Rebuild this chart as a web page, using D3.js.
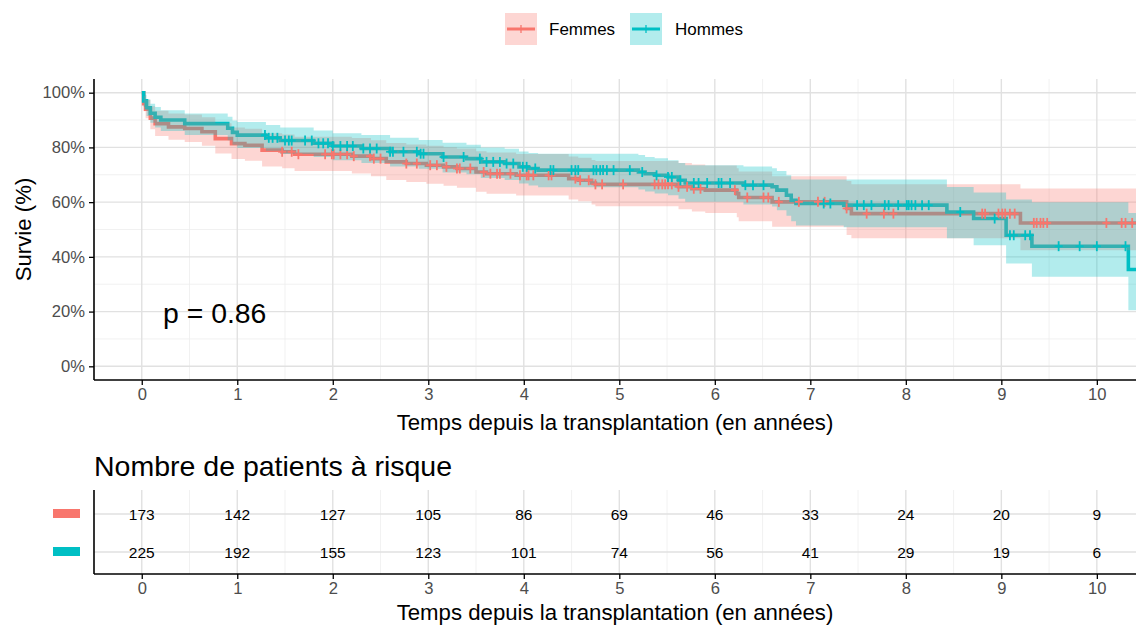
<!DOCTYPE html>
<html><head><meta charset="utf-8">
<script src="https://cdn.jsdelivr.net/npm/d3@7"></script>
<style>
body{margin:0;background:#fff;}
svg{display:block;font-family:"Liberation Sans",Arial,sans-serif;}
</style></head>
<body><svg id="c" width="1136" height="626"></svg>
<script>
// ---------------- DATA ----------------
const categories = ["Femmes", "Hommes"];
const colors = ["#F8766D", "#00BFC4"];

const femmesTime  = [0, 0.02, 0.04, 0.09, 0.14, 0.28, 0.45, 0.63, 0.77, 0.94, 1.08, 1.26, 1.47, 1.6, 2.2, 2.4, 2.56, 2.77, 2.98, 3.16, 3.3, 3.5, 3.61, 3.92, 4.47, 4.57, 4.71, 4.75, 5.62, 5.76, 5.9, 6.23, 6.25, 6.6, 7.38, 7.43, 9.2];
const femmesSurv  = [100, 96, 94, 90.7, 88.7, 87.5, 86.9, 85.7, 83.2, 81.4, 80.8, 79, 78.4, 77.5, 76.8, 75.9, 74.7, 74.1, 73.5, 72.9, 72.3, 71.0, 70.4, 69.8, 68.6, 68.0, 67.0, 66.5, 65.6, 64.9, 64.4, 63.1, 61.7, 60.1, 57.7, 55.8, 52.4];
const femmesLower = [100, 93.2, 90.7, 86.6, 84.2, 82.8, 82, 80.6, 77.8, 75.8, 75.1, 73, 72.4, 71.4, 70.5, 69.5, 68.1, 67.4, 66.7, 66, 65.3, 63.8, 63.1, 62.4, 61, 60.3, 59.1, 58.5, 57.4, 56.6, 56, 54.5, 53, 51, 48, 46.8, 42.4];
const femmesUpper = [100, 98.8, 97.4, 95, 93.4, 92.4, 92, 91, 88.8, 87.3, 86.8, 85.2, 84.7, 83.9, 83.4, 82.6, 81.6, 81.1, 80.6, 80.1, 79.6, 78.6, 78.1, 77.6, 76.7, 76.2, 75.4, 75, 74.3, 73.8, 73.4, 72.4, 71.2, 69.5, 67.7, 66.5, 65];
const femmesCensor = [1.47, 1.57, 1.64, 1.92, 1.99, 2.01, 2.08, 2.15, 2.22, 2.39, 2.43, 2.5, 2.77, 2.88, 3.02, 3.09, 3.19, 3.3, 3.33, 3.44, 3.58, 3.65, 3.72, 3.75, 3.86, 3.96, 4.03, 4.05, 4.1, 4.26, 4.29, 4.54, 4.59, 4.68, 4.75, 4.82, 5.04, 5.37, 5.41, 5.45, 5.48, 5.51, 5.55, 5.62, 5.71, 5.78, 5.85, 6.21, 6.34, 6.51, 6.56, 6.67, 6.88, 7.08, 7.15, 7.38, 7.59, 7.77, 7.87, 8.8, 8.83, 8.97, 9.01, 9.04, 9.09, 9.14, 9.34, 9.37, 9.41, 9.44, 9.48, 10.1, 10.26, 10.3, 10.37];

const hommesTime  = [0, 0.02, 0.05, 0.09, 0.14, 0.2, 0.45, 0.9, 0.95, 1.0, 1.3, 1.45, 1.8, 2.0, 2.3, 2.6, 2.9, 3.15, 3.4, 3.55, 3.8, 3.95, 4.05, 4.15, 5.2, 5.27, 5.37, 5.51, 5.62, 5.69, 6.3, 6.6, 6.65, 6.75, 6.8, 6.85, 7.35, 8.43, 8.71, 9.05, 9.32, 10.33];
const hommesSurv  = [100, 97, 94.5, 92.5, 91, 90, 88.7, 87, 85.5, 84.5, 83.5, 82.5, 81.5, 80.5, 79.6, 78.4, 77.7, 76.5, 75.9, 74.7, 74.1, 72.9, 72.3, 71.7, 71.0, 70.4, 69.8, 69.2, 68.0, 67.0, 66.2, 65.6, 64.4, 62.5, 60.7, 59.5, 58.9, 56.4, 54.0, 47.9, 43.9, 35.4];
const hommesLower = [100, 94.8, 91.5, 89, 87.3, 86, 84.5, 82.6, 81, 79.8, 78.8, 77.6, 76.5, 75.3, 74.3, 73, 72.2, 70.8, 70.2, 68.8, 68.1, 66.8, 66.1, 65.4, 64.6, 63.9, 63.2, 62.5, 61.2, 60.1, 59.1, 58.4, 57, 55, 53, 51.5, 50.8, 46.8, 44.2, 37.6, 32.7, 20.5];
const hommesUpper = [100, 99.2, 97.5, 96, 94.8, 93.6, 92.4, 91.2, 89.8, 89.3, 88.2, 87.3, 86.2, 85.2, 84.5, 83.5, 82.7, 81.7, 81, 80, 79.5, 78.5, 78, 77.7, 77.2, 76.5, 76, 75.3, 74.3, 73.5, 73.0, 72.4, 71.4, 69.8, 68.3, 68.3, 68.3, 65.5, 63.5, 61, 60, 56];
const hommesCensor = [1.29, 1.33, 1.37, 1.42, 1.5, 1.54, 1.57, 1.71, 1.78, 1.85, 1.9, 1.95, 2.0, 2.08, 2.15, 2.21, 2.32, 2.39, 2.46, 2.6, 2.63, 2.74, 2.88, 2.92, 2.95, 3.16, 3.37, 3.54, 3.61, 3.68, 3.75, 3.82, 3.89, 3.99, 4.03, 4.12, 4.28, 4.31, 4.5, 4.54, 4.57, 4.73, 4.76, 4.8, 4.83, 4.87, 4.94, 5.11, 5.24, 5.39, 5.51, 5.55, 5.64, 5.78, 5.83, 5.92, 6.04, 6.07, 6.16, 6.32, 6.4, 6.51, 7.14, 7.21, 7.49, 7.56, 7.64, 7.78, 7.82, 7.92, 8.01, 8.06, 8.03, 8.1, 8.17, 8.24, 8.57, 8.93, 9.09, 9.13, 9.25, 9.3, 9.6, 9.82, 10.0, 10.3];

const endTime = 10.41;
const riskTimes = [0, 1, 2, 3, 4, 5, 6, 7, 8, 9, 10];
const femmesRisk = [173, 142, 127, 105, 86, 69, 46, 33, 24, 20, 9];
const hommesRisk = [225, 192, 155, 123, 101, 74, 56, 41, 29, 19, 6];
const xTicks = [0, 1, 2, 3, 4, 5, 6, 7, 8, 9, 10];
const yTicks = [0, 20, 40, 60, 80, 100];
const yTickLabels = ["0%", "20%", "40%", "60%", "80%", "100%"];
const pValueText = "p = 0.86";
const xTitle = "Temps depuis la transplantation (en années)";
const yTitle = "Survie (%)";
const tableTitle = "Nombre de patients à risque";

// ---------------- LAYOUT ----------------
const svg = d3.select("#c");
const L = 94, R = 1136, T = 79, B = 380;
const x = d3.scaleLinear().domain([-0.5, endTime]).range([L, R]);
const y = d3.scaleLinear().domain([-5, 105]).range([B, T]);
const FONT_TICK = 16.6, FONT_TITLE = 22.2;

const series = [
  {name: categories[0], color: colors[0], t: femmesTime, s: femmesSurv, lo: femmesLower, hi: femmesUpper, c: femmesCensor},
  {name: categories[1], color: colors[1], t: hommesTime, s: hommesSurv, lo: hommesLower, hi: hommesUpper, c: hommesCensor}
];
series.forEach(sr => {
  sr.pts = sr.t.map((t, i) => ({t, s: sr.s[i], lo: sr.lo[i], hi: sr.hi[i]}));
  const last = sr.pts[sr.pts.length - 1];
  sr.pts.push({t: endTime, s: last.s, lo: last.lo, hi: last.hi});
  sr.at = tt => { let v = sr.s[0]; for (let i = 0; i < sr.t.length; i++) { if (sr.t[i] <= tt) v = sr.s[i]; } return v; };
});

svg.append("defs").append("clipPath").attr("id", "clip")
  .append("rect").attr("x", L).attr("y", T).attr("width", R - L).attr("height", B - T);

// grid
const grid = svg.append("g");
const minorY = d3.range(10, 101, 20);
grid.selectAll(".my").data(minorY).join("line")
  .attr("x1", L).attr("x2", R).attr("y1", d => y(d)).attr("y2", d => y(d))
  .attr("stroke", "#EDEDED").attr("stroke-width", 0.8);
grid.selectAll(".mx").data(d3.range(0.5, 10.5, 1)).join("line")
  .attr("y1", T).attr("y2", B).attr("x1", d => x(d)).attr("x2", d => x(d))
  .attr("stroke", "#EDEDED").attr("stroke-width", 0.8);
grid.selectAll(".My").data(yTicks).join("line")
  .attr("x1", L).attr("x2", R).attr("y1", d => y(d)).attr("y2", d => y(d))
  .attr("stroke", "#E1E1E1").attr("stroke-width", 1.4);
grid.selectAll(".Mx").data(xTicks).join("line")
  .attr("y1", T).attr("y2", B).attr("x1", d => x(d)).attr("x2", d => x(d))
  .attr("stroke", "#E1E1E1").attr("stroke-width", 1.4);

const plotG = svg.append("g").attr("clip-path", "url(#clip)");
const line = d3.line().curve(d3.curveStepAfter).x(d => x(d.t)).y(d => y(d.s));
const area = d3.area().curve(d3.curveStepAfter).x(d => x(d.t)).y0(d => y(d.lo)).y1(d => y(d.hi));

series.forEach(sr => {
  plotG.append("path").datum(sr.pts).attr("d", line)
    .attr("fill", "none").attr("stroke", sr.color).attr("stroke-width", 3.6);
});
series.forEach(sr => {
  plotG.append("path").datum(sr.pts).attr("d", area)
    .attr("fill", sr.color).attr("fill-opacity", 0.3).attr("stroke", "none");
});
series.forEach(sr => {
  const g = plotG.append("g");
  sr.c.forEach(ct => {
    const cx = x(ct), cy = y(sr.at(ct));
    g.append("line").attr("x1", cx).attr("x2", cx).attr("y1", cy - 5).attr("y2", cy + 5)
      .attr("stroke", sr.color).attr("stroke-width", 1.8);
    g.append("line").attr("x1", cx - 4).attr("x2", cx + 4).attr("y1", cy).attr("y2", cy)
      .attr("stroke", sr.color).attr("stroke-width", 1.8);
  });
});

// axes
const xAxis = svg.append("g").attr("transform", `translate(0,${B})`)
  .call(d3.axisBottom(x).tickValues(xTicks).tickSize(5).tickPadding(3).tickFormat(d3.format("d")));
const yAxis = svg.append("g").attr("transform", `translate(${L},0)`)
  .call(d3.axisLeft(y).tickValues(yTicks).tickSize(5).tickPadding(4).tickFormat((d, i) => yTickLabels[i]));
[xAxis, yAxis].forEach(a => {
  a.select(".domain").attr("stroke", "#000").attr("stroke-width", 1.6);
  a.selectAll(".tick line").attr("stroke", "#000").attr("stroke-width", 1.3);
  a.selectAll(".tick text").attr("fill", "#4D4D4D").style("font-size", FONT_TICK + "px")
    .style("font-family", "Liberation Sans, Arial, sans-serif");
});
xAxis.select(".domain").attr("d", `M${L},0H${R}`);
yAxis.select(".domain").attr("d", `M0,${T}V${B}`);

svg.append("text").attr("x", (L + R) / 2).attr("y", 422).attr("text-anchor", "middle")
  .attr("dominant-baseline", "central").style("font-size", FONT_TITLE + "px").text(xTitle);
svg.append("text").attr("transform", `translate(23,${(T + B) / 2}) rotate(-90)`).attr("text-anchor", "middle")
  .attr("dominant-baseline", "central").style("font-size", FONT_TITLE + "px").text(yTitle);
svg.append("text").attr("x", 163).attr("y", 313).attr("dominant-baseline", "central")
  .style("font-size", "28.4px").text(pValueText);

// legend
const legX = [505, 630], legTextX = [549, 675];
series.forEach((sr, i) => {
  const g = svg.append("g");
  g.append("rect").attr("x", legX[i]).attr("y", 13).attr("width", 32).attr("height", 32)
    .attr("fill", sr.color).attr("fill-opacity", 0.3);
  g.append("line").attr("x1", legX[i] + 2).attr("x2", legX[i] + 30).attr("y1", 29).attr("y2", 29)
    .attr("stroke", sr.color).attr("stroke-width", 3);
  g.append("line").attr("x1", legX[i] + 16).attr("x2", legX[i] + 16).attr("y1", 25).attr("y2", 33)
    .attr("stroke", sr.color).attr("stroke-width", 1.3);
  g.append("text").attr("x", legTextX[i]).attr("y", 29).attr("dominant-baseline", "central")
    .style("font-size", "17px").text(sr.name);
});

// ---------------- RISK TABLE ----------------
const TT = 490, TB = 574;
const rowY = d3.scalePoint().domain(categories).range([514, 552]);
const tg = svg.append("g");
tg.selectAll(".tmx").data(d3.range(0.5, 10.5, 1)).join("line")
  .attr("y1", TT).attr("y2", TB).attr("x1", d => x(d)).attr("x2", d => x(d))
  .attr("stroke", "#EDEDED").attr("stroke-width", 0.8);
tg.selectAll(".tMx").data(xTicks).join("line")
  .attr("y1", TT).attr("y2", TB).attr("x1", d => x(d)).attr("x2", d => x(d))
  .attr("stroke", "#E1E1E1").attr("stroke-width", 1.4);
tg.selectAll(".tMy").data(categories).join("line")
  .attr("x1", L).attr("x2", R).attr("y1", d => rowY(d)).attr("y2", d => rowY(d))
  .attr("stroke", "#E1E1E1").attr("stroke-width", 1.4);

const risks = [femmesRisk, hommesRisk];
categories.forEach((cat, i) => {
  tg.selectAll(".r" + i).data(riskTimes).join("text")
    .attr("x", d => x(d)).attr("y", rowY(cat)).attr("text-anchor", "middle").attr("dominant-baseline", "central")
    .style("font-size", "15.5px").attr("fill", "#000").text((d, j) => risks[i][j]);
  tg.append("rect").attr("x", 53).attr("y", rowY(cat) - 5).attr("width", 27).attr("height", 9).attr("fill", colors[i]);
});
const txAxis = svg.append("g").attr("transform", `translate(0,${TB})`)
  .call(d3.axisBottom(x).tickValues(xTicks).tickSize(5).tickPadding(3).tickFormat(d3.format("d")));
txAxis.select(".domain").attr("d", `M${L},0H${R}`).attr("stroke", "#000").attr("stroke-width", 1.6);
txAxis.selectAll(".tick line").attr("stroke", "#000").attr("stroke-width", 1.3);
txAxis.selectAll(".tick text").attr("fill", "#4D4D4D").style("font-size", FONT_TICK + "px")
  .style("font-family", "Liberation Sans, Arial, sans-serif");
svg.append("line").attr("x1", L).attr("x2", L).attr("y1", TT).attr("y2", TB).attr("stroke", "#000").attr("stroke-width", 1.6);
svg.append("text").attr("x", (L + R) / 2).attr("y", 612).attr("text-anchor", "middle")
  .attr("dominant-baseline", "central").style("font-size", FONT_TITLE + "px").text(xTitle);
svg.append("text").attr("x", 94).attr("y", 466).attr("dominant-baseline", "central")
  .style("font-size", "28.5px").text(tableTitle);
</script></body></html>
